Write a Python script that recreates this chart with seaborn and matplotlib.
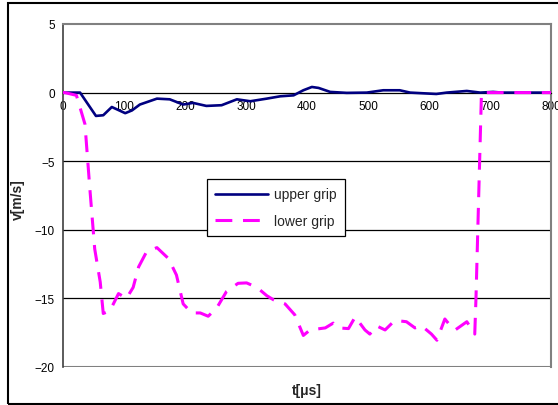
import matplotlib
matplotlib.use("Agg")
import matplotlib.pyplot as plt
import pandas as pd
import seaborn as sns
from matplotlib.patches import Rectangle

# data
t_upper = [0, 28, 54, 66, 80, 102, 113, 126, 154, 175, 197, 213, 235, 260, 285, 307,
           334, 356, 378, 394, 408, 419, 438, 465, 498, 525, 552, 569, 612, 629, 662,
           684, 705, 720, 760, 800]
v_upper = [0, 0, -1.7, -1.65, -1.05, -1.5, -1.3, -0.87, -0.44, -0.49, -0.87, -0.75,
           -0.97, -0.92, -0.49, -0.63, -0.44, -0.27, -0.2, 0.17, 0.41, 0.34, 0.05,
           -0.02, 0, 0.17, 0.17, 0, -0.1, 0, 0.12, 0, 0.05, 0, 0, 0]

t_lower = [0, 3, 22, 36, 44, 52, 61, 66, 77, 91, 104, 115, 124, 137, 154, 173, 186,
           197, 211, 225, 238, 252, 268, 287, 301, 318, 334, 345, 364, 380, 394, 405,
           430, 443, 451, 468, 479, 495, 503, 514, 528, 544, 563, 577, 588, 604, 613,
           618, 626, 637, 643, 662, 675, 677, 683, 686, 720, 760, 800]
v_lower = [0, 0, -0.2, -2.3, -7, -11.4, -13.8, -16.1, -15.9, -14.65, -15.0, -14.2,
           -12.7, -11.6, -11.3, -12.1, -13.3, -15.4, -16.06, -16.06, -16.3, -15.7,
           -14.5, -13.9, -13.87, -14.2, -14.8, -15.1, -15.4, -16.2, -17.7, -17.3,
           -17.15, -16.8, -17.15, -17.2, -16.35, -17.3, -17.6, -17.0, -17.3, -16.6,
           -16.7, -17.15, -17.0, -17.6, -18.05, -17.45, -16.5, -17.1, -17.3, -16.7,
           -17.6, -15.0, -5.0, 0, 0, 0, 0]

x_ticks = [0, 100, 200, 300, 400, 500, 600, 700, 800]
y_ticks = [-20, -15, -10, -5, 0, 5]

df_up = pd.DataFrame({'t': t_upper, 'v': v_upper})
df_lo = pd.DataFrame({'t': t_lower, 'v': v_lower})

sns.set_style("white")
plt.rcParams['font.family'] = ['Liberation Sans', 'DejaVu Sans']

fig = plt.figure(figsize=(5.58, 4.06), dpi=100)
ax = fig.add_axes([63 / 558, 1 - 368 / 406, 488 / 558, 343 / 406])

sns.lineplot(data=df_up, x='t', y='v', ax=ax, color='#000080', linewidth=1.9,
             estimator=None, sort=False, label='upper grip', zorder=3)
sns.lineplot(data=df_lo, x='t', y='v', ax=ax, color='#FF00FF', linewidth=2.2,
             estimator=None, sort=False, label='lower grip', zorder=4,
             dashes=False)
ax.lines[1].set_dashes((5.5, 3.5))

ax.set_xlim(0, 800)
ax.set_ylim(-20, 5)
ax.set_xticks(x_ticks)
ax.set_yticks(y_ticks)
ax.tick_params(axis='both', labelsize=8.5, colors='black', length=4, width=0.8,
               direction='out', pad=2)
ax.tick_params(axis='x', pad=1)

# horizontal grid lines
for y in [-15, -10, -5]:
    ax.axhline(y, color='black', linewidth=0.9, zorder=1)
ax.axhline(-20, color='#808080', linewidth=1.5, zorder=1)

ax.spines['bottom'].set_position(('data', 0))
ax.spines['bottom'].set_color('black')
ax.spines['bottom'].set_linewidth(0.9)
ax.spines['left'].set_color('#404040')
ax.spines['left'].set_linewidth(1.2)
for s in ['top', 'right']:
    ax.spines[s].set_color('#808080')
    ax.spines[s].set_linewidth(1.5)
    ax.spines[s].set_visible(True)

ax.set_xlabel('')
ax.set_ylabel('')
fig.text(307 / 558, 1 - 391 / 406, 't[μs]', ha='center', va='center',
         fontsize=10, fontweight='bold')
fig.text(18 / 558, 1 - 200 / 406, 'v[m/s]', ha='center', va='center',
         fontsize=10, fontweight='bold', rotation=90)

leg = ax.legend(loc='upper left', bbox_to_anchor=(0.295, 0.548), fontsize=10,
                frameon=True, fancybox=False, edgecolor='black', framealpha=1,
                handlelength=3.8, borderpad=0.6, labelspacing=0.9,
                handletextpad=0.4, borderaxespad=0)
leg.get_frame().set_linewidth(0.9)

# outer chart border
fig.patches.append(Rectangle((8 / 558, 1 / 406), 560 / 558, 401 / 406,
                             transform=fig.transFigure, fill=False,
                             edgecolor='black', linewidth=1.5))

fig.savefig('out.png', dpi=100)
